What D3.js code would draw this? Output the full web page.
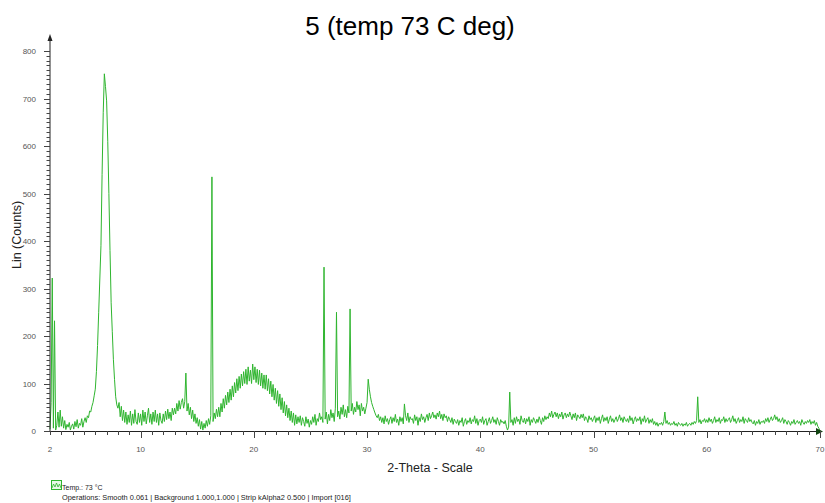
<!DOCTYPE html>
<html>
<head>
<meta charset="utf-8">
<script src="https://cdn.jsdelivr.net/npm/d3@7"></script>
<style>
  body { margin: 0; background: #fff; }
  svg { display: block; font-family: "Liberation Sans", Arial, sans-serif; }
</style>
</head>
<body>
<svg id="chart" width="825" height="503"></svg>
<script>
// ---- data ----
const titleText = "5 (temp 73 C deg)";
const xLabel = "2-Theta - Scale";
const yLabel = "Lin (Counts)";
const legendLabel = "Temp.: 73 °C";
const operationsText = "Operations: Smooth 0.061 | Background 1.000,1.000 | Strip kAlpha2 0.500 | Import [016]";
const xStart = 2, xStep = 0.1;
const xTicks = [2, 10, 20, 30, 40, 50, 60, 70];
const yTicks = [0, 100, 200, 300, 400, 500, 600, 700, 800];
// counts, one row per degree of 2-theta (2.0 .. 70.0, step 0.1)
const counts = [
  4, 60, 322, 6, 232, 2, 12, 40, 8, 44,
  10, 30, 6, 22, 3, 14, 8, 18, 2, 10,
  15, 4, 20, 9, 24, 6, 16, 12, 26, 8,
  20, 28, 18, 32, 28, 42, 40, 52, 60, 74,
  88, 125, 180, 250, 320, 390, 540, 670, 752, 725,
  695, 610, 500, 380, 270, 210, 150, 108, 72, 55,
  48, 60, 30, 52, 22, 44, 18, 40, 14, 34,
  18, 42, 12, 36, 16, 45, 20, 14, 38, 18,
  36, 12, 44, 20, 40, 15, 32, 48, 18, 36,
  14, 40, 20, 44, 18, 36, 12, 38, 22, 16,
  36, 20, 42, 24, 46, 26, 40, 22, 48, 34,
  48, 36, 58, 42, 64, 46, 60, 68, 48, 62,
  122, 42, 58, 34, 50, 26, 44, 20, 36, 16,
  28, 10, 24, 4, 20, 2, 16, 6, 22, 10,
  26, 14, 32, 535, 20, 38, 26, 46, 30, 50,
  30, 58, 40, 68, 48, 75, 55, 82, 60, 88,
  65, 95, 72, 102, 80, 110, 85, 115, 90, 120,
  95, 125, 100, 130, 98, 135, 105, 128, 100, 141,
  108, 135, 102, 130, 98, 128, 95, 122, 90, 118,
  88, 118, 85, 110, 78, 105, 72, 98, 65, 90,
  58, 85, 52, 78, 45, 70, 38, 62, 32, 55,
  28, 48, 22, 42, 18, 38, 12, 34, 15, 30,
  18, 32, 12, 28, 20, 10, 30, 16, 25, 8,
  22, 14, 30, 18, 35, 12, 26, 20, 38, 24,
  30, 18, 345, 25, 40, 15, 35, 22, 45, 28,
  38, 20, 48, 250, 30, 42, 25, 50, 35, 55,
  30, 45, 28, 52, 38, 257, 42, 58, 35, 50,
  40, 62, 45, 55, 32, 58, 42, 50, 36, 48,
  60, 109, 88, 72, 60, 52, 45, 38, 32, 28,
  35, 22, 30, 18, 28, 15, 32, 20, 26, 14,
  24, 30, 16, 28, 20, 35, 18, 25, 12, 30,
  20, 28, 15, 57, 32, 22, 38, 18, 30, 24,
  26, 16, 34, 22, 30, 12, 28, 20, 36, 24,
  30, 18, 28, 35, 22, 38, 26, 32, 40, 28,
  34, 25, 38, 30, 42, 26, 35, 22, 36, 28,
  32, 20, 30, 24, 18, 28, 14, 25, 20, 16,
  24, 12, 22, 18, 28, 10, 20, 26, 14, 22,
  18, 28, 15, 24, 20, 32, 16, 26, 12, 22,
  25, 18, 30, 14, 22, 26, 12, 20, 28, 16,
  22, 30, 18, 24, 14, 28, 20, 12, 24, 18,
  20, 15, 22, 10, 2, 8, 82, 18, 24, 12,
  28, 16, 30, 20, 25, 14, 32, 22, 18, 27,
  15, 26, 20, 30, 12, 24, 18, 28, 22, 16,
  25, 18, 30, 22, 14, 28, 20, 32, 24, 30,
  26, 38, 30, 42, 28, 35, 40, 30, 38, 26,
  36, 30, 40, 25, 34, 38, 28, 36, 30, 40,
  32, 24, 36, 28, 38, 22, 34, 30, 26, 35,
  28, 36, 22, 30, 26, 18, 32, 24, 28, 20,
  26, 32, 18, 28, 22, 30, 16, 26, 34, 20,
  28, 22, 30, 16, 25, 32, 20, 26, 18, 24,
  30, 20, 26, 34, 22, 28, 18, 30, 24, 20,
  26, 18, 32, 22, 28, 15, 24, 30, 20, 26,
  22, 30, 14, 26, 20, 32, 18, 24, 28, 16,
  24, 18, 26, 14, 20, 12, 18, 10, 16, 14,
  18, 12, 20, 40, 16, 22, 14, 18, 12, 16,
  14, 20, 12, 16, 10, 18, 14, 12, 16, 10,
  15, 12, 18, 10, 14, 16, 12, 18, 14, 20,
  16, 22, 72, 18, 24, 15, 22, 20, 26, 18,
  24, 18, 28, 20, 25, 16, 22, 30, 18, 24,
  20, 28, 16, 24, 22, 30, 18, 26, 20, 24,
  28, 18, 24, 32, 20, 26, 16, 22, 28, 18,
  24, 20, 30, 16, 26, 22, 18, 28, 20, 24,
  18, 15, 22, 12, 20, 16, 24, 14, 20, 18,
  22, 16, 26, 20, 28, 18, 24, 30, 22, 26,
  34, 24, 30, 20, 26, 18, 22, 28, 16, 24,
  20, 14, 22, 18, 12, 20, 16, 24, 14, 18,
  22, 16, 20, 12, 24, 18, 14, 20, 16, 22,
  18, 24, 14, 20, 16, 22, 12, 18, 10, 6,
  0
];

// ---- chart ----
const svg = d3.select("#chart");
const lineColor = "#2fb52f";
const axisColor = "#222";

const x = d3.scaleLinear().domain([2, 70]).range([50, 820]);
const y = d3.scaleLinear().domain([0, 800]).range([431, 51]);

const points = counts.map((c, i) => [xStart + i * xStep, c]);

// title
svg.append("text").attr("x", 410).attr("y", 35).attr("text-anchor", "middle")
  .attr("font-size", 26).attr("fill", "#000").text(titleText);

// data line
svg.append("path").datum(points)
  .attr("fill", "none").attr("stroke", lineColor).attr("stroke-width", 1)
  .attr("stroke-linejoin", "miter")
  .attr("d", d3.line().x(d => x(d[0])).y(d => y(d[1])));

// y axis
const yMinor = d3.range(0, 801, 10);
const yAxisG = svg.append("g");
yAxisG.append("line").attr("x1", 50).attr("x2", 50).attr("y1", y(0)).attr("y2", 38)
  .attr("stroke", axisColor).attr("stroke-width", 1);
yAxisG.append("path").attr("d", `M50,34 L47.5,41 L52.5,41 Z`).attr("fill", axisColor);
yAxisG.selectAll("line.minor").data(yMinor).join("line").attr("class", "minor")
  .attr("x1", d => d % 100 === 0 ? 44 : 46.5).attr("x2", 50)
  .attr("y1", d => Math.round(y(d)) + 0.5).attr("y2", d => Math.round(y(d)) + 0.5)
  .attr("stroke", "#444").attr("stroke-width", 1);
yAxisG.selectAll("text").data(yTicks).join("text")
  .attr("x", 36).attr("y", d => y(d) + 3).attr("text-anchor", "end")
  .attr("font-size", 8).attr("fill", "#555").text(d => d);

// x axis
const xMinor = d3.range(2, 71, 1);
const xAxisG = svg.append("g");
xAxisG.append("line").attr("x1", 50).attr("x2", 820).attr("y1", 431.5).attr("y2", 431.5)
  .attr("stroke", axisColor).attr("stroke-width", 1);
xAxisG.append("path").attr("d", `M823,431.5 L816,428 L816,435 Z`).attr("fill", "#114411");
xAxisG.selectAll("line.minor").data(xMinor).join("line").attr("class", "minor")
  .attr("x1", d => Math.round(x(d)) + 0.5).attr("x2", d => Math.round(x(d)) + 0.5)
  .attr("y1", 431).attr("y2", d => (d % 10 === 0 ? 438 : 435))
  .attr("stroke", "#444").attr("stroke-width", 1);
xAxisG.selectAll("text").data(xTicks).join("text")
  .attr("x", d => x(d)).attr("y", 452).attr("text-anchor", "middle")
  .attr("font-size", 8).attr("fill", "#555").text(d => d);

// axis labels
svg.append("text").attr("x", 430).attr("y", 472).attr("text-anchor", "middle")
  .attr("font-size", 12.5).attr("fill", "#222").text(xLabel);
svg.append("text").attr("transform", "translate(21,235) rotate(-90)")
  .attr("text-anchor", "middle").attr("font-size", 12.5).attr("fill", "#222").text(yLabel);

// legend
const lg = svg.append("g");
lg.append("rect").attr("x", 51.5).attr("y", 480.5).attr("width", 10).attr("height", 9)
  .attr("fill", "#e8f8e8").attr("stroke", lineColor).attr("stroke-width", 1);
lg.append("path").attr("d", "M52,488 L53.5,484 L55,487 L56.5,483 L58,487 L59.5,484 L61,488")
  .attr("fill", "none").attr("stroke", lineColor).attr("stroke-width", 0.8);
lg.append("text").attr("x", 62).attr("y", 490).attr("font-size", 7).attr("fill", "#222").text(legendLabel);
lg.append("text").attr("x", 62).attr("y", 499.5).attr("font-size", 7.4).attr("fill", "#222").text(operationsText);
</script>
</body>
</html>
